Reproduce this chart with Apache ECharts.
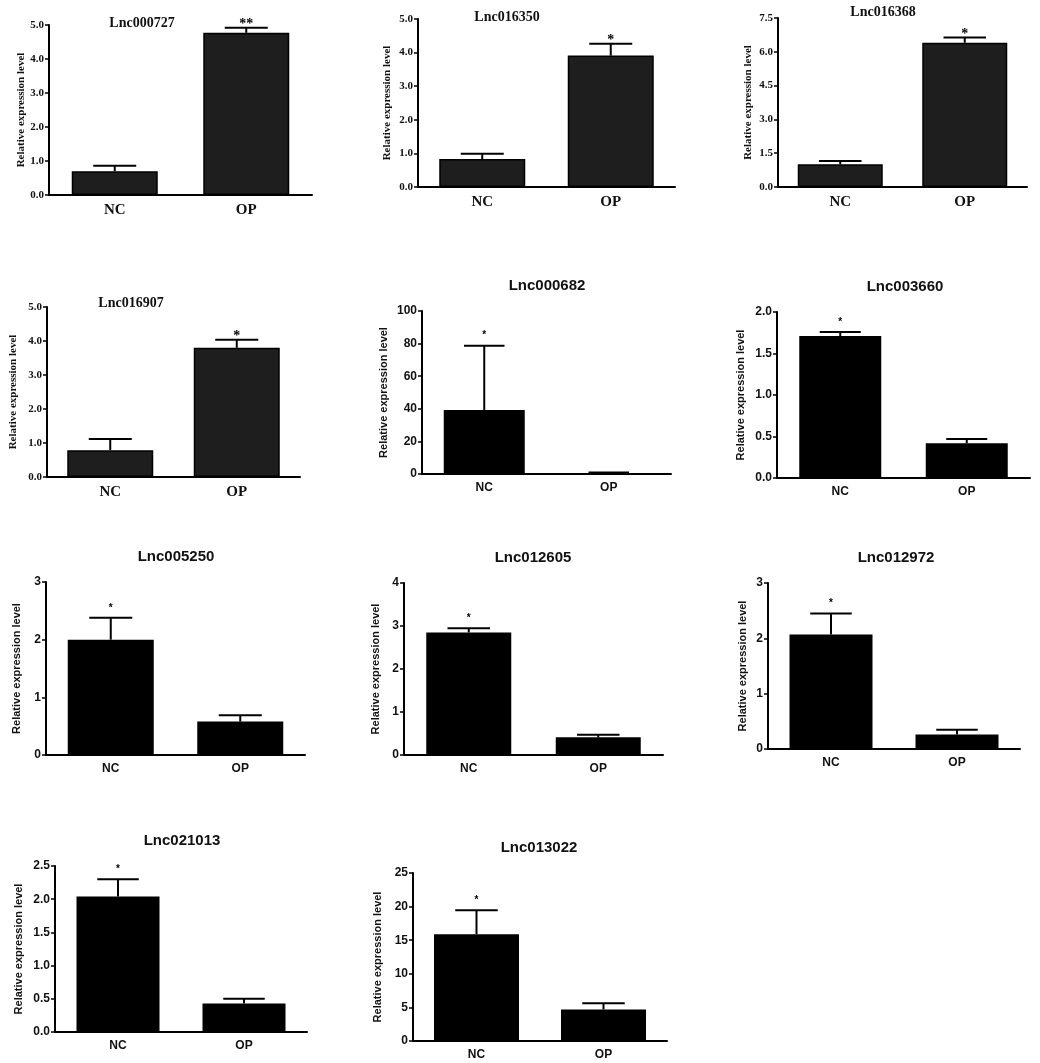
<!DOCTYPE html>
<html>
<head>
<meta charset="utf-8">
<title>Relative expression of lncRNAs, NC vs OP</title>
<script src="https://cdn.jsdelivr.net/npm/echarts@6/dist/echarts.min.js"></script>
<style>
  html, body { margin: 0; padding: 0; background: #fff; }
  #main { width: 1040px; height: 1063px; }
</style>
</head>
<body>
<div id="main"></div>
<script>
// ---- data ----
var groups = ['NC', 'OP'];
var titles = ['Lnc000727', 'Lnc016350', 'Lnc016368', 'Lnc016907', 'Lnc000682', 'Lnc003660',
              'Lnc005250', 'Lnc012605', 'Lnc012972', 'Lnc021013', 'Lnc013022'];
var ncMean = [0.70, 0.83, 1.01, 0.79, 39.3, 1.71, 2.00, 2.85, 2.07, 2.04, 15.9];
var ncErr  = [0.16, 0.16, 0.14, 0.33, 39.4, 0.05, 0.38, 0.10, 0.38, 0.26, 3.55];
var opMean = [4.77, 3.91, 6.40, 3.80, 0.6, 0.42, 0.58, 0.41, 0.26, 0.43, 4.7];
var opErr  = [0.15, 0.35, 0.24, 0.24, 0.3, 0.05, 0.11, 0.06, 0.09, 0.07, 0.9];
var stars  = [['', '**'], ['', '*'], ['', '*'], ['', '*'], ['*', ''], ['*', ''],
              ['*', ''], ['*', ''], ['*', ''], ['*', ''], ['*', '']];
var yMax     = [5, 5, 7.5, 5, 100, 2, 3, 4, 3, 2.5, 25];
var yStep    = [1, 1, 1.5, 1, 20, 0.5, 1, 1, 1, 0.5, 5];
var decimals = [1, 1, 1, 1, 0, 1, 0, 0, 0, 1, 0];
var yName = 'Relative expression level';

// ---- layout: axis origin box, bar width, font style, name gap, title centre ----
// [left, top, right, bottom, barWidth, serif?, nameGap, titleX, titleY]
var layout = [
  [49, 25, 312, 195, 86, true, 20, 142, 23],
  [418, 19, 675, 187, 86, true, 25, 507, 17],
  [778, 18, 1027, 187, 85, true, 24, 883, 12],
  [47, 307, 300, 477, 86, true, 28, 131, 303],
  [422, 311, 671, 474, 81, false, 33, 547, 286],
  [777, 312, 1030, 478, 82, false, 31, 905, 287],
  [46, 582, 305, 755, 86, false, 24, 176, 557],
  [404, 583, 663, 755, 85, false, 23, 533, 558],
  [768, 583, 1020, 749, 83, false, 20, 896, 558],
  [55, 866, 307, 1032, 83, false, 31, 182, 841],
  [413, 873, 667, 1041, 85, false, 30, 539, 848]
];

var SERIF = '"Liberation Serif", "Times New Roman", serif';
var SANS = '"Liberation Sans", Arial, sans-serif';

var myChart = echarts.init(document.getElementById('main'));

var grids = [], xAxes = [], yAxes = [], series = [], texts = [];

function errorRender(p) {
  var L = layout[p];
  var serif = L[5];
  return function (params, api) {
    var cat = api.value(0), mean = api.value(1), err = api.value(2);
    var p0 = api.coord([cat, mean]);
    var p1 = api.coord([cat, mean + err]);
    var hw = L[4] * 0.25;
    var st = { stroke: '#000', lineWidth: 2 };
    var children = [
      { type: 'line', shape: { x1: p0[0], y1: p0[1], x2: p1[0], y2: p1[1] }, style: st },
      { type: 'line', shape: { x1: p1[0] - hw, y1: p1[1], x2: p1[0] + hw, y2: p1[1] }, style: st }
    ];
    var s = stars[p][params.dataIndex];
    if (s) {
      children.push({
        type: 'text',
        style: {
          text: s, x: p1[0], y: p1[1] - (serif ? 3 : 10),
          align: 'center', verticalAlign: 'middle',
          font: serif ? 'bold 14px ' + SERIF : 'bold 10px ' + SANS,
          fill: '#000'
        }
      });
    }
    return { type: 'group', children: children };
  };
}

for (var i = 0; i < titles.length; i++) {
  var L = layout[i];
  var serif = L[5];
  var fam = serif ? SERIF : SANS;
  var dec = decimals[i];

  grids.push({ left: L[0], top: L[1], width: L[2] - L[0], height: L[3] - L[1] });

  xAxes.push({
    type: 'category',
    gridIndex: i,
    data: groups,
    axisLine: { lineStyle: { color: '#000', width: 2 } },
    axisTick: { show: false },
    axisLabel: {
      color: '#111', fontWeight: 'bold', fontFamily: fam,
      fontSize: serif ? 15 : 12, margin: 8
    }
  });

  yAxes.push({
    type: 'value',
    gridIndex: i,
    min: 0,
    max: yMax[i],
    interval: yStep[i],
    name: yName,
    nameLocation: 'middle',
    nameGap: L[6],
    nameTextStyle: { color: '#111', fontWeight: 'bold', fontFamily: fam, fontSize: 11 },
    axisLine: { show: true, lineStyle: { color: '#000', width: 2 } },
    axisTick: { show: true, length: 4, lineStyle: { color: '#000', width: 1.5 } },
    splitLine: { show: false },
    axisLabel: {
      color: '#111', fontWeight: 'bold', fontFamily: fam,
      fontSize: serif ? 11 : 12, margin: 5,
      formatter: (function (d) { return function (v) { return v.toFixed(d); }; })(dec)
    }
  });

  series.push({
    type: 'bar',
    xAxisIndex: i,
    yAxisIndex: i,
    barWidth: L[4],
    itemStyle: {
      color: serif ? '#1e1e1e' : '#000',
      borderColor: '#000',
      borderWidth: serif ? 1.5 : 0
    },
    data: [ncMean[i], opMean[i]],
    z: 2
  });

  series.push({
    type: 'custom',
    xAxisIndex: i,
    yAxisIndex: i,
    renderItem: errorRender(i),
    data: [[0, ncMean[i], ncErr[i]], [1, opMean[i], opErr[i]]],
    z: 3
  });

  texts.push({
    type: 'text',
    x: L[7],
    y: L[8],
    style: {
      text: titles[i],
      align: 'center',
      verticalAlign: 'middle',
      font: serif ? 'bold 14px ' + SERIF : 'bold 15px ' + SANS,
      fill: '#111'
    }
  });
}

var option = {
  backgroundColor: '#fff',
  animation: false,
  grid: grids,
  xAxis: xAxes,
  yAxis: yAxes,
  series: series,
  graphic: texts
};
myChart.setOption(option);
</script>
</body>
</html>
